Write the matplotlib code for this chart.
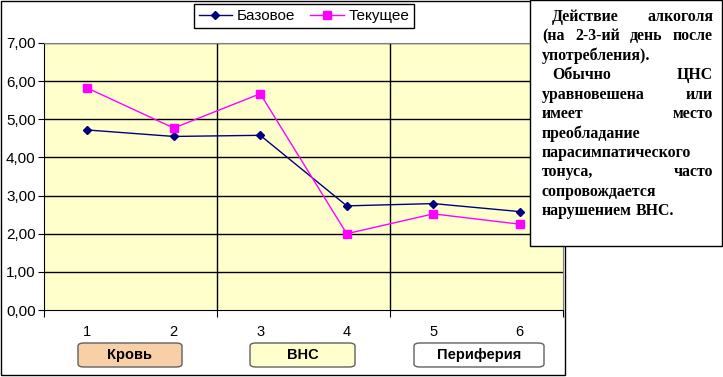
import matplotlib
matplotlib.use("Agg")
from matplotlib import pyplot as plt
from matplotlib.patches import Rectangle, FancyBboxPatch

# data
categories = [1, 2, 3, 4, 5, 6]
base = [4.72, 4.55, 4.58, 2.73, 2.79, 2.58]
current = [5.82, 4.77, 5.67, 2.00, 2.52, 2.25]
y_ticks = [0, 1, 2, 3, 4, 5, 6, 7]
y_labels = ["0,00", "1,00", "2,00", "3,00", "4,00", "5,00", "6,00", "7,00"]
groups = ["Кровь", "ВНС", "Периферия"]
group_colors = ["#F8D0A8", "#FFFFCC", "#FFFFFF"]
note_lines = [
    ("Действие алкоголя", True, True),
    ("(на 2-3-ий день после", False, True),
    ("употребления).", False, False),
    ("Обычно ЦНС", True, True),
    ("уравновешена или", False, True),
    ("имеет место", False, True),
    ("преобладание", False, False),
    ("парасимпатического", False, False),
    ("тонуса, часто", False, True),
    ("сопровождается", False, False),
    ("нарушением ВНС.", False, False),
]

W, H = 723, 377
fig = plt.figure(figsize=(W / 100, H / 100), dpi=100)
fig.patch.set_facecolor("white")


def fx(px):
    return px / W


def fy(py):
    return 1 - py / H


sans = ["Liberation Sans", "DejaVu Sans"]
serif = ["Liberation Serif", "DejaVu Serif"]

# outer chart border
fig.patches.append(Rectangle((fx(1), fy(375)), fx(564), (374) / H, transform=fig.transFigure,
                             fill=False, edgecolor="black", lw=1, zorder=0))

ax = fig.add_axes([fx(44), fy(310), fx(519), 267 / H])
ax.set_facecolor("#FFFFCC")
ax.plot(categories, base, color="#000080", marker="D", markersize=4.5, lw=1, label="Базовое", zorder=3)
ax.plot(categories, current, color="#FF00FF", marker="s", markersize=5.5, lw=1, label="Текущее", zorder=3)

ax.set_xlim(0.5, 6.5)
ax.set_ylim(0, 7)
ax.set_yticks(y_ticks)
ax.set_yticklabels(y_labels, family=sans, fontsize=11)
ax.set_xticks([0.5, 2.5, 4.5, 6.5])
ax.set_xticklabels([])
ax.set_xticks(categories, minor=True)
ax.set_xticklabels([str(c) for c in categories], minor=True, family=sans, fontsize=10.5)
ax.tick_params(axis="x", which="major", length=5, direction="out", color="black")
ax.tick_params(axis="x", which="minor", length=0, pad=11)
ax.tick_params(axis="y", length=4, pad=2, color="black")
for y in y_ticks[1:]:
    ax.axhline(y, color="black", lw=1, zorder=1)
for x in [2.5, 4.5]:
    ax.axvline(x, color="black", lw=1, zorder=1)
ax.spines["left"].set_color("black")
ax.spines["bottom"].set_color("black")
ax.spines["top"].set_color("#808080")
ax.spines["right"].set_color("#808080")

leg = fig.legend(loc="center", bbox_to_anchor=(fx(304), fy(16)), ncol=2, frameon=True, fancybox=False,
                 edgecolor="black", framealpha=1, prop={"family": sans, "size": 11},
                 handlelength=2.2, handletextpad=0.3, columnspacing=1.0, borderpad=0.3)
leg.get_frame().set_linewidth(1)

# group label boxes under the axis
boxes = [(78, 182), (250, 355), (414, 544)]
for name, color, (x0, x1) in zip(groups, group_colors, boxes):
    p = FancyBboxPatch((fx(x0), fy(367)), fx(x1 - x0), 24 / H, transform=fig.transFigure,
                       boxstyle="round,pad=0,rounding_size=0.008", facecolor=color,
                       edgecolor="#606060", lw=1)
    fig.patches.append(p)
    fig.text(fx((x0 + x1) / 2), fy(355), name, ha="center", va="center",
             family=sans, fontsize=10.5, fontweight="bold")

# note box
fig.patches.append(Rectangle((fx(530), fy(246)), fx(192), 246 / H, transform=fig.transFigure,
                             facecolor="white", edgecolor="black", lw=1, zorder=5))

renderer = fig.canvas.get_renderer()
left, right, indent = 542, 713, 552
for i, (line, ind, justify) in enumerate(note_lines):
    y = 17 + i * 19.4
    words = line.split()
    x0 = indent if ind else left
    texts = [fig.text(fx(x0), fy(y), w, ha="left", va="center", family=serif, fontsize=11.4,
                      fontweight="bold", zorder=6) for w in words]
    if justify and len(words) > 1:
        widths = [t.get_window_extent(renderer).width for t in texts]
        gap = (right - x0 - sum(widths)) / (len(words) - 1)
        x = x0
        for t, w in zip(texts, widths):
            t.set_x(fx(x))
            x += w + gap
    else:
        x = x0
        space = 4
        for t in texts:
            t.set_x(fx(x))
            x += t.get_window_extent(renderer).width + space

fig.savefig("out.png", dpi=100)
